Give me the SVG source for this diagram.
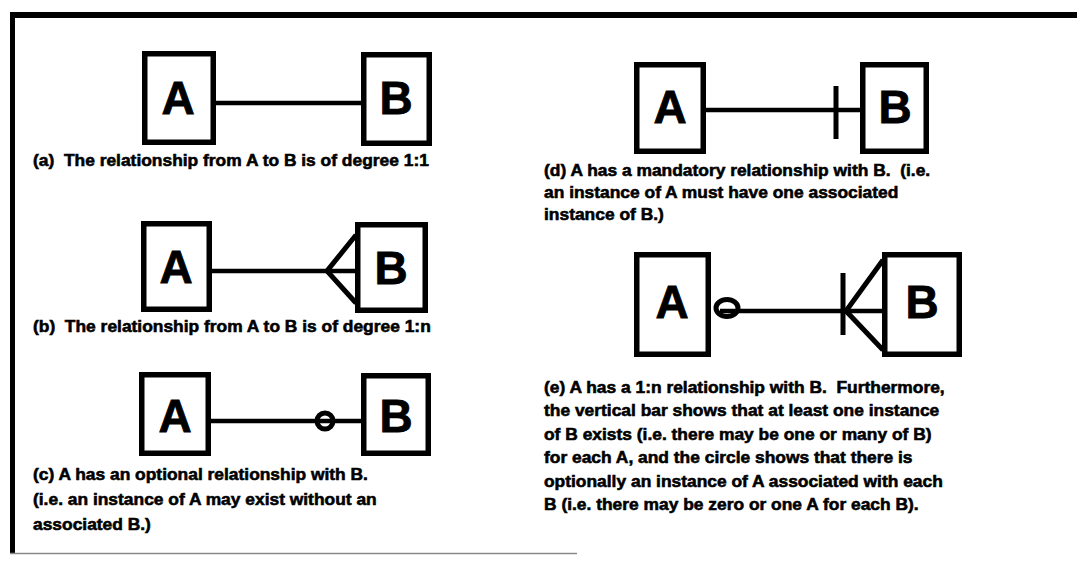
<svg xmlns="http://www.w3.org/2000/svg" width="1077" height="563" viewBox="0 0 1077 563">
  <style>
    .box { fill: #fff; stroke: #000; stroke-width: 5.5; }
    .lbl { font-family: "Liberation Sans", Arial, sans-serif; font-weight: bold; font-size: 46px; text-anchor: middle; fill: #000; stroke: #000; stroke-width: 0.8; }
    .cap { font-family: "Liberation Sans", Arial, sans-serif; font-weight: bold; font-size: 17.4px; fill: #000; stroke: #000; stroke-width: 0.6; white-space: pre; }
    .rel { fill: none; stroke: #000; stroke-width: 4.5; }
    .mark { fill: none; stroke: #000; stroke-width: 5; }
  </style>

  <!-- frame -->
  <g id="frame">
    <line x1="10" y1="15" x2="1077" y2="15" stroke="#000" stroke-width="6"/>
    <line x1="12.5" y1="12" x2="12.5" y2="554" stroke="#000" stroke-width="5"/>
    <line x1="10" y1="553.5" x2="577" y2="553.5" stroke="#8a8a8a" stroke-width="1.5"/>
  </g>

  <!-- connectors -->
  <g id="connectors">
    <!-- (a) plain 1:1 -->
    <line class="rel" x1="216" y1="103" x2="361" y2="103"/>
    <!-- (b) 1:n crow's foot -->
    <line class="rel" x1="212" y1="271" x2="355" y2="271"/>
    <polyline class="mark" points="356,235 327,271 356,303"/>
    <!-- (c) optional circle -->
    <line class="rel" x1="211" y1="421" x2="361" y2="421"/>
    <circle class="mark" cx="325" cy="421" r="8" stroke-width="4.5" fill="#fff"/>
    <!-- (d) mandatory bar -->
    <line class="rel" x1="706" y1="110" x2="860" y2="110"/>
    <line class="mark" x1="836" y1="86" x2="836" y2="139"/>
    <!-- (e) optional circle, mandatory bar and crow's foot -->
    <line class="rel" x1="720" y1="311" x2="882" y2="311"/>
    <ellipse class="mark" cx="727" cy="308" rx="11" ry="8.5" fill="#fff"/>
    <line class="mark" x1="843" y1="273" x2="843" y2="335"/>
    <polyline class="mark" points="883,260 846,311 883,350"/>
  </g>

  <!-- (a) -->
  <g id="a-A"><rect class="box" x="144.75" y="53.75" width="68.5" height="88.5"/><text class="lbl" x="178" y="114">A</text></g>
  <g id="a-B"><rect class="box" x="363.75" y="54.75" width="65.5" height="88.5"/><text class="lbl" x="396" y="114">B</text></g>
  <text class="cap" x="33" y="166">(a)  The relationship from A to B is of degree 1:1</text>

  <!-- (b) -->
  <g id="b-A"><rect class="box" x="143.75" y="223.75" width="65.5" height="85.5"/><text class="lbl" x="176" y="283">A</text></g>
  <g id="b-B"><rect class="box" x="357.75" y="224.75" width="67.5" height="85.5"/><text class="lbl" x="391" y="284">B</text></g>
  <text class="cap" x="33" y="332">(b)  The relationship from A to B is of degree 1:n</text>

  <!-- (c) -->
  <g id="c-A"><rect class="box" x="141.75" y="374.75" width="66.5" height="78.5"/><text class="lbl" x="175" y="432">A</text></g>
  <g id="c-B"><rect class="box" x="363.75" y="375.75" width="64.5" height="77.5"/><text class="lbl" x="396" y="432">B</text></g>
  <text class="cap" x="33" y="480">(c) A has an optional relationship with B.</text>
  <text class="cap" x="33" y="505">(i.e. an instance of A may exist without an</text>
  <text class="cap" x="33" y="530">associated B.)</text>

  <!-- (d) -->
  <g id="d-A"><rect class="box" x="636.75" y="64.75" width="66.5" height="86.5"/><text class="lbl" x="670" y="123">A</text></g>
  <g id="d-B"><rect class="box" x="862.75" y="64.75" width="63.5" height="86.5"/><text class="lbl" x="895" y="123">B</text></g>
  <text class="cap" x="544" y="176">(d) A has a mandatory relationship with B.  (i.e.</text>
  <text class="cap" x="544" y="198">an instance of A must have one associated</text>
  <text class="cap" x="544" y="220">instance of B.)</text>

  <!-- (e) -->
  <g id="e-A"><rect class="box" x="636.75" y="254.75" width="71.5" height="99.5"/><text class="lbl" x="672" y="318">A</text></g>
  <g id="e-B"><rect class="box" x="884.75" y="254.75" width="74.5" height="99.5"/><text class="lbl" x="922" y="318">B</text></g>
  <text class="cap" x="544" y="393">(e) A has a 1:n relationship with B.  Furthermore,</text>
  <text class="cap" x="544" y="416">the vertical bar shows that at least one instance</text>
  <text class="cap" x="544" y="440">of B exists (i.e. there may be one or many of B)</text>
  <text class="cap" x="544" y="463">for each A, and the circle shows that there is</text>
  <text class="cap" x="544" y="487">optionally an instance of A associated with each</text>
  <text class="cap" x="544" y="510">B (i.e. there may be zero or one A for each B).</text>
</svg>
